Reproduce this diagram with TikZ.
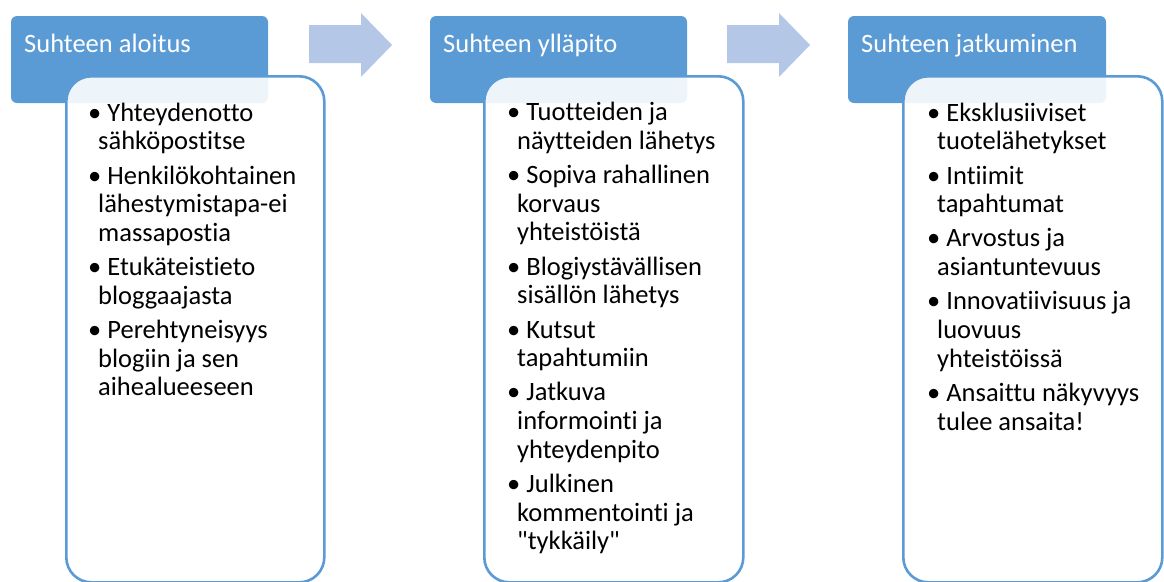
\documentclass[tikz,border=0pt]{standalone}
\usepackage{fontspec}
\setmainfont{Carlito}[Ligatures=NoCommon]
\usetikzlibrary{positioning}

\definecolor{hdrblue}{HTML}{5B9BD5}
\definecolor{arrblue}{HTML}{B4C7E7}
\newcommand{\contline}{\hspace*{10pt}}

\begin{document}
\begin{tikzpicture}[x=1pt, y=-1pt,
    header/.style={fill=hdrblue, rounded corners=6pt},
    listbox/.style={draw=hdrblue, line width=2.6pt, fill=white, fill opacity=0.9, rounded corners=25pt},
    hdrtext/.style={text=white, font=\fontsize{26.5}{30}\selectfont, inner sep=0pt, anchor=base west},
    listtext/.style={font=\fontsize{26.5}{28.7}\selectfont, align=left, inner sep=0pt, anchor=north west},
    blockarrow/.style={fill=arrblue}]
    \useasboundingbox (0,0) rectangle (1164,581);

    % headers
    \fill[header] (11,16) rectangle (268,103);
    \fill[header] (430,16) rectangle (687,103);
    \fill[header] (848,16) rectangle (1106,103);

    % arrows between the stages
    \fill[blockarrow] (309,25) -- (361,25) -- (361,13) -- (392,45) -- (361,77) -- (361,63) -- (309,63) -- cycle;
    \fill[blockarrow] (727,25) -- (779,25) -- (779,13) -- (810,45) -- (779,77) -- (779,63) -- (727,63) -- cycle;

    % list boxes
    \node[listbox, minimum width=258pt, minimum height=506pt, anchor=north west] (b1) at (65,75) {};
    \node[listbox, minimum width=259pt, minimum height=506pt, anchor=north west] (b2) at (483,75) {};
    \node[listbox, minimum width=259pt, minimum height=506pt, anchor=north west] (b3) at (902,75) {};

    \node[hdrtext] (h1) at (24,52) {Suhteen aloitus};
    \node[hdrtext] (h2) at (443,52) {Suhteen ylläpito};
    \node[hdrtext] (h3) at (861,52) {Suhteen jatkuminen};

    \node[listtext] (t1) at (88,102.5) {\textbullet\ Yhteydenotto\\
        \contline sähköpostitse\\[5.5pt]
        \textbullet\ Henkilökohtainen\\
        \contline lähestymistapa-ei\\
        \contline massapostia\\[5.5pt]
        \textbullet\ Etukäteistieto\\
        \contline bloggaajasta\\[5.5pt]
        \textbullet\ Perehtyneisyys\\
        \contline blogiin ja sen\\
        \contline aihealueeseen};

    \node[listtext] (t2) at (507,102) {\textbullet\ Tuotteiden ja\\
        \contline näytteiden lähetys\\[5.5pt]
        \textbullet\ Sopiva rahallinen\\
        \contline korvaus\\
        \contline yhteistöistä\\[5.5pt]
        \textbullet\ Blogiystävällisen\\
        \contline sisällön lähetys\\[5.5pt]
        \textbullet\ Kutsut\\
        \contline tapahtumiin\\[5.5pt]
        \textbullet\ Jatkuva\\
        \contline informointi ja\\
        \contline yhteydenpito\\[5.5pt]
        \textbullet\ Julkinen\\
        \contline kommentointi ja\\
        \contline \textquotedbl tykkäily\textquotedbl};

    \node[listtext] (t3) at (927,102.5) {\textbullet\ Eksklusiiviset\\
        \contline tuotelähetykset\\[5.5pt]
        \textbullet\ Intiimit\\
        \contline tapahtumat\\[5.5pt]
        \textbullet\ Arvostus ja\\
        \contline asiantuntevuus\\[5.5pt]
        \textbullet\ Innovatiivisuus ja\\
        \contline luovuus\\
        \contline yhteistöissä\\[5.5pt]
        \textbullet\ Ansaittu näkyvyys\\
        \contline tulee ansaita!};
\end{tikzpicture}
\end{document}
